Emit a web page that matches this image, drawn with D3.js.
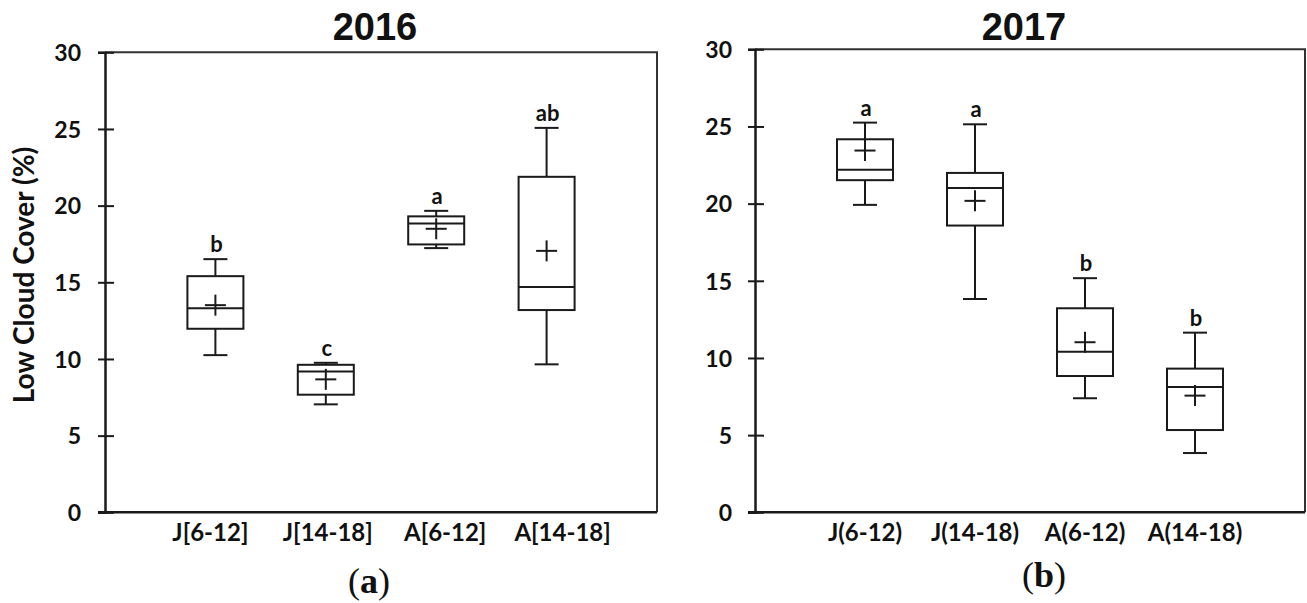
<!DOCTYPE html>
<html>
<head>
<meta charset="utf-8">
<script src="https://cdn.jsdelivr.net/npm/d3@7"></script>
<style>
  body { margin: 0; background: #fff; }
  svg { display: block; }
  .lbl { font-family: Lato, "Open Sans", sans-serif; font-weight: bold; fill: #111; }
</style>
</head>
<body>
<div id="chart"></div>
<script>
'use strict';

// 2016 (J = June, A = August, hours in brackets)
var categories2016 = ['J[6-12]', 'J[14-18]', 'A[6-12]', 'A[14-18]']
var lower2016  = [10.25, 7.04, 17.23, 9.65]
var q1_2016    = [11.97, 7.67, 17.47, 13.19]
var median2016 = [13.30, 9.19, 18.84, 14.69]
var q3_2016    = [15.40, 9.62, 19.30, 21.88]
var upper2016  = [16.51, 9.75, 19.66, 25.07]
var mean2016   = [13.51, 8.67, 18.49, 17.05]
var letters2016 = ['b', 'c', 'a', 'ab']

// 2017
var categories2017 = ['J(6-12)', 'J(14-18)', 'A(6-12)', 'A(14-18)']
var lower2017  = [19.92, 13.82, 7.39, 3.84]
var q1_2017    = [21.52, 18.58, 8.83, 5.33]
var median2017 = [22.20, 21.02, 10.41, 8.12]
var q3_2017    = [24.17, 21.99, 13.22, 9.31]
var upper2017  = [25.25, 25.14, 15.17, 11.64]
var mean2017   = [23.44, 20.18, 11.02, 7.56]
var letters2017 = ['a', 'a', 'b', 'b']

var yTicks = [0, 5, 10, 15, 20, 25, 30]
var yMax = 30

var width = 1307, height = 603
var svg = d3.select('#chart').append('svg').attr('width', width).attr('height', height)

var ink = '#1a1a1a'
var boxW = 56, capW = 24, plusW = 21

function panel(opt) {
    var x = d3.scaleLinear().domain([0, 5]).range([opt.left, opt.right])
    var y = d3.scaleLinear().domain([0, yMax]).range([opt.bottom, opt.top])
    var g = svg.append('g')

    // frame (top + right)
    g.append('path')
        .attr('d', 'M' + opt.left + ',' + opt.top + 'H' + opt.right + 'V' + opt.bottom)
        .attr('fill', 'none').attr('stroke', '#333').attr('stroke-width', 2)

    // bottom line
    g.append('line')
        .attr('x1', opt.left - 7).attr('x2', opt.right)
        .attr('y1', opt.bottom).attr('y2', opt.bottom)
        .attr('stroke', ink).attr('stroke-width', 2.5)

    // y axis
    var ya = g.append('g')
        .attr('transform', 'translate(' + opt.left + ',0)')
        .call(d3.axisLeft(y).tickValues(yTicks).tickSizeOuter(0).tickSize(7))
    ya.select('.domain').attr('stroke', ink).attr('stroke-width', 2.5)
    ya.selectAll('.tick line').attr('x1', 9).attr('x2', -7).attr('stroke', ink).attr('stroke-width', 2)
    ya.selectAll('.tick text')
        .attr('class', 'lbl').attr('x', -opt.labelGap).attr('dy', '0.36em')
        .style('font-size', '23px')

    // category labels
    var xl = d3.scalePoint().domain(opt.cats)
        .range([x(1) + opt.labelShift[0], x(4) + opt.labelShift[1]])
    g.selectAll('.xlab').data(opt.cats).enter().append('text')
        .attr('class', 'lbl')
        .attr('x', function(d) { return xl(d) })
        .attr('y', opt.bottom + 29)
        .attr('text-anchor', 'middle')
        .style('font-size', '24px')
        .text(function(d) { return d })

    // boxes
    opt.cats.forEach(function(c, i) {
        var cx = x(i + 1)
        function ln(x1, y1, x2, y2) {
            g.append('line').attr('x1', x1).attr('y1', y1).attr('x2', x2).attr('y2', y2)
                .attr('stroke', ink).attr('stroke-width', 2)
        }
        // whiskers
        ln(cx, y(opt.q3[i]), cx, y(opt.upper[i]))
        ln(cx, y(opt.q1[i]), cx, y(opt.lower[i]))
        ln(cx - capW / 2, y(opt.upper[i]), cx + capW / 2, y(opt.upper[i]))
        ln(cx - capW / 2, y(opt.lower[i]), cx + capW / 2, y(opt.lower[i]))
        // box
        g.append('rect')
            .attr('x', cx - boxW / 2).attr('width', boxW)
            .attr('y', y(opt.q3[i])).attr('height', y(opt.q1[i]) - y(opt.q3[i]))
            .attr('fill', 'none').attr('stroke', ink).attr('stroke-width', 2)
        ln(cx - boxW / 2, y(opt.median[i]), cx + boxW / 2, y(opt.median[i]))
        // mean marker
        ln(cx - plusW / 2, y(opt.mean[i]), cx + plusW / 2, y(opt.mean[i]))
        ln(cx, y(opt.mean[i]) - plusW / 2, cx, y(opt.mean[i]) + plusW / 2)
        // significance letter
        g.append('text').attr('class', 'lbl')
            .attr('x', cx + 1).attr('y', y(opt.upper[i]) - 7)
            .attr('text-anchor', 'middle')
            .style('font-size', '22px')
            .text(opt.letters[i])
    })

    // title
    g.append('text')
        .attr('x', (opt.left + opt.right) / 2 - 6).attr('y', 40)
        .attr('text-anchor', 'middle')
        .style('font-family', '"Liberation Sans", Arial, sans-serif')
        .style('font-weight', 'bold').style('font-size', '38px').style('fill', '#111')
        .text(opt.title)

    // caption
    var cap = g.append('text')
        .attr('x', opt.capX).attr('y', opt.capY)
        .attr('text-anchor', 'middle')
        .style('font-family', '"Liberation Serif", "DejaVu Serif", serif')
        .style('font-size', '36px').style('fill', '#111')
    cap.append('tspan').text('(')
    cap.append('tspan').style('font-weight', 'bold').text(opt.capLetter)
    cap.append('tspan').text(')')
}

panel({
    title: '2016', cats: categories2016,
    lower: lower2016, q1: q1_2016, median: median2016, q3: q3_2016, upper: upper2016,
    mean: mean2016, letters: letters2016,
    left: 105, right: 657, top: 52.3, bottom: 512.3,
    labelGap: 24, labelShift: [-5, 16],
    capX: 369, capY: 593, capLetter: 'a'
})

panel({
    title: '2017', cats: categories2017,
    lower: lower2017, q1: q1_2017, median: median2017, q3: q3_2017, upper: upper2017,
    mean: mean2017, letters: letters2017,
    left: 755, right: 1305, top: 49.3, bottom: 512.3,
    labelGap: 23, labelShift: [0, 0],
    capX: 1044, capY: 587, capLetter: 'b'
})

// shared y title
svg.append('text')
    .attr('class', 'lbl')
    .attr('transform', 'translate(34,275) rotate(-90)')
    .attr('text-anchor', 'middle')
    .style('font-size', '28px')
    .text('Low Cloud Cover (%)')
</script>
</body>
</html>
